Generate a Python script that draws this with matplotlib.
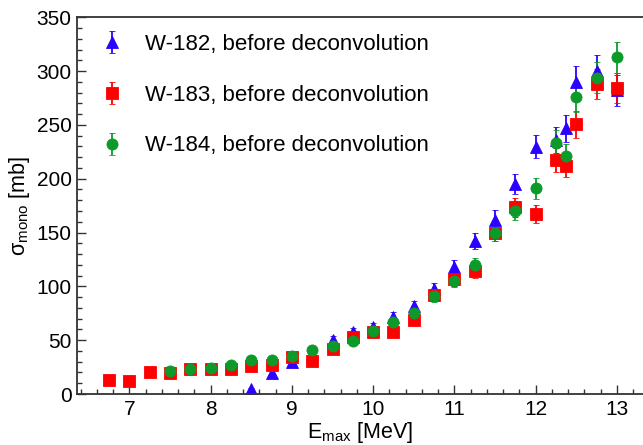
import matplotlib
matplotlib.use('Agg')
import matplotlib.pyplot as plt
from matplotlib.ticker import MultipleLocator

# photon end-point energies (MeV)
e_182 = [8.5, 8.75, 9.0, 9.25, 9.5, 9.75, 10.0, 10.25, 10.5, 10.75, 11.0, 11.25,
         11.5, 11.75, 12.0, 12.25, 12.375, 12.5, 12.75, 13.0]
e_183 = [6.75, 7.0, 7.25, 7.5, 7.75, 8.0, 8.25, 8.5, 8.75, 9.0, 9.25, 9.5, 9.75,
         10.0, 10.25, 10.5, 10.75, 11.0, 11.25, 11.5, 11.75, 12.0, 12.25, 12.375,
         12.5, 12.75, 13.0]
e_184 = [7.5, 7.75, 8.0, 8.25, 8.5, 8.75, 9.0, 9.25, 9.5, 9.75, 10.0, 10.25, 10.5,
         10.75, 11.0, 11.25, 11.5, 11.75, 12.0, 12.25, 12.375, 12.5, 12.75, 13.0]

# sigma_mono (mb) and uncertainties
s_182 = [4.6, 19.8, 30.0, 36.0, 50.0, 57.6, 62.0, 71.8, 81.7, 98.0, 117.7, 142.0,
         162.0, 195.0, 229.7, 236.0, 246.8, 290.0, 299.7, 282.0]
d_182 = [1.0, 2.0, 2.5, 3.0, 3.5, 4.0, 4.0, 4.5, 5.0, 5.5, 6.8, 7.5,
         8.5, 9.5, 10.9, 12.0, 12.5, 14.6, 15.0, 14.0]
s_183 = [13.0, 12.4, 20.7, 19.2, 23.0, 23.5, 23.0, 26.0, 27.0, 34.0, 30.6, 41.5,
         52.6, 57.9, 57.9, 68.7, 92.0, 106.5, 114.5, 149.8, 173.4, 167.5, 217.5,
         211.8, 250.7, 288.3, 284.5]
d_183 = [1.0, 1.0, 1.5, 1.5, 1.5, 1.5, 1.5, 2.0, 2.0, 2.5, 2.5, 3.0,
         3.5, 4.0, 4.0, 4.5, 5.5, 6.0, 6.5, 8.0, 9.0, 8.5, 11.0,
         10.5, 12.5, 14.0, 14.0]
s_184 = [21.7, 23.0, 24.0, 27.0, 31.6, 31.6, 35.3, 40.9, 44.6, 49.5, 58.8, 67.0,
         75.0, 91.3, 105.0, 119.8, 149.8, 170.3, 191.0, 233.4, 221.0, 276.0,
         294.0, 312.7]
d_184 = [1.5, 1.5, 1.5, 2.0, 2.0, 2.0, 2.5, 3.0, 3.0, 3.5, 4.0, 4.5,
         5.0, 5.5, 6.0, 6.5, 8.0, 9.0, 10.0, 12.0, 11.0, 14.0,
         14.5, 14.5]

labels = ['W-182, before deconvolution',
          'W-183, before deconvolution',
          'W-184, before deconvolution']
colors = ['#2b00ff', '#ff0000', '#0e9a2a']

plt.rcParams['font.family'] = ['Liberation Sans', 'DejaVu Sans']
plt.rcParams['mathtext.default'] = 'regular'

fig = plt.figure(figsize=(6.43, 4.45), dpi=100)
ax = fig.add_axes([0.1202, 0.1146, 0.8798, 0.8466])

series = [(e_182, s_182, d_182, '^'), (e_183, s_183, d_183, 's'), (e_184, s_184, d_184, 'o')]
for (x, y, dy, m), lab, c in zip(series, labels, colors):
    ax.errorbar(x, y, yerr=dy, fmt=m, color=c, ms=8, mec=c, mew=0.6,
                ecolor=c, elinewidth=1.3, capsize=2.5, capthick=1.2,
                label=lab)

ax.set_xlim(6.36, 13.32)
ax.set_ylim(0, 350)
ax.xaxis.set_major_locator(MultipleLocator(1))
ax.xaxis.set_minor_locator(MultipleLocator(0.2))
ax.yaxis.set_major_locator(MultipleLocator(50))
ax.yaxis.set_minor_locator(MultipleLocator(10))
ax.tick_params(which='both', direction='in', labelsize=15, width=1.0, color='#333333')
ax.tick_params(which='major', length=6.5, pad=4)
ax.tick_params(which='minor', length=3.8)
for s in ['left', 'bottom', 'top']:
    ax.spines[s].set_linewidth(1.3)
    ax.spines[s].set_color('#333333')
ax.spines['right'].set_visible(False)

ax.set_xlabel(r'E$_{max}$ [MeV]', fontsize=15.5, labelpad=1)
ax.set_ylabel(r'$\sigma_{mono}$ [mb]', fontsize=15.5, labelpad=3)

leg = ax.legend(loc='upper left', bbox_to_anchor=(0.0, 1.0), frameon=False,
                fontsize=16, labelspacing=1.34, handletextpad=0.7,
                borderaxespad=0.35, handlelength=1.6)

fig.savefig('out.png', dpi=100)
